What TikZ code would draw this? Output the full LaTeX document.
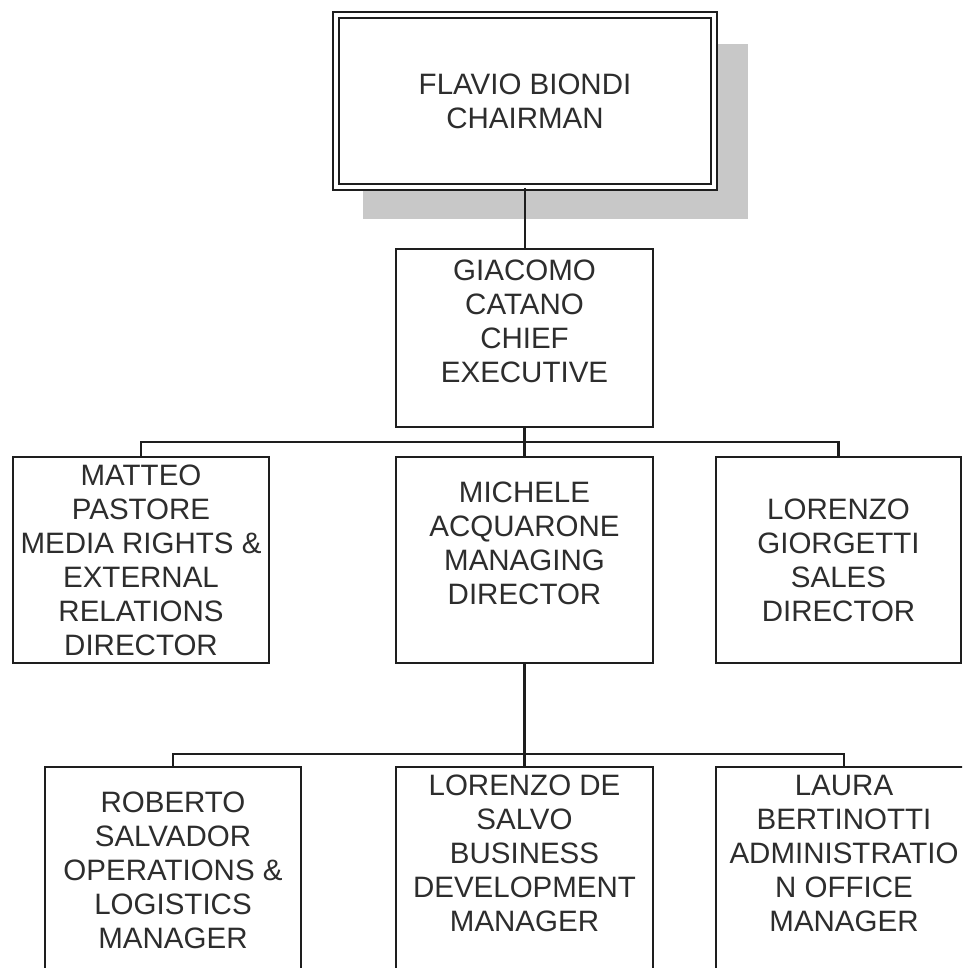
\documentclass[tikz,border=0pt]{standalone}
\usepackage{fontspec}
\setmainfont{Liberation Sans}
\usetikzlibrary{shadows}
\definecolor{boxline}{RGB}{30,30,30}
\definecolor{labelgray}{RGB}{45,45,45}
\definecolor{shadowgray}{RGB}{200,200,200}

\begin{document}
\begin{tikzpicture}[x=1pt, y=-1pt,
    unit/.style={draw=boxline, line width=1.9pt, fill=white, text=labelgray, align=center,
        inner sep=0pt, minimum width=256pt, minimum height=206pt,
        font=\fontsize{29.5}{34}\selectfont},
    link/.style={draw=boxline, line width=2.5pt}]
    % Page frame
    \path[use as bounding box] (0,0) rectangle (962,968);
    \clip (0,0) rectangle (962,968);

    % Chairman
    \node[unit, minimum width=378pt, minimum height=172pt, line width=1.8pt, double,
        double distance=3.5pt,
        general shadow={fill=shadowgray, shadow xshift=30pt, shadow yshift=-30pt, shadow scale=1.02}]
        (chair) at (525,101) {FLAVIO BIONDI\\CHAIRMAN};

    % Chief executive
    \node[unit, minimum width=257pt, minimum height=178pt] (ceo) at (524.5,338)
        {GIACOMO\\CATANO\\CHIEF\\EXECUTIVE\\ \mbox{}};

    % Directors
    \node[unit] (pastore) at (141,560)
        {MATTEO\\PASTORE\\MEDIA RIGHTS \&\\EXTERNAL\\RELATIONS\\DIRECTOR};
    \node[unit, minimum width=257pt] (acquarone) at (524.5,560)
        {MICHELE\\ACQUARONE\\MANAGING\\DIRECTOR\\ \mbox{}};
    \node[unit, minimum width=245pt] (giorgetti) at (838.5,560)
        {LORENZO\\GIORGETTI\\SALES\\DIRECTOR};

    % Managers
    \node[unit] (salvador) at (173,870)
        {ROBERTO\\SALVADOR\\OPERATIONS \&\\LOGISTICS\\MANAGER};
    \node[unit, minimum width=257pt] (desalvo) at (524.5,870)
        {LORENZO DE\\SALVO\\BUSINESS\\DEVELOPMENT\\MANAGER\\ \mbox{}};
    \node[unit] (bertinotti) at (844,870)
        {LAURA\\BERTINOTTI\\ADMINISTRATIO\\N OFFICE\\MANAGER\\ \mbox{}};

    % Reporting lines
    \draw[link] (chair.south) -- (chair.south |- ceo.north);
    \draw[link] (ceo.south) -- ++(0,14) coordinate (busA);
    \draw[link] (busA) -| (pastore.north);
    \draw[link] (busA) -| (giorgetti.north);
    \draw[link] (busA) -- (busA |- acquarone.north);
    \draw[link] (acquarone.south) -- ++(0,90) coordinate (busB);
    \draw[link] (busB) -| (salvador.north);
    \draw[link] (busB) -| (bertinotti.north);
    \draw[link] (busB) -- (busB |- desalvo.north);
\end{tikzpicture}
\end{document}
